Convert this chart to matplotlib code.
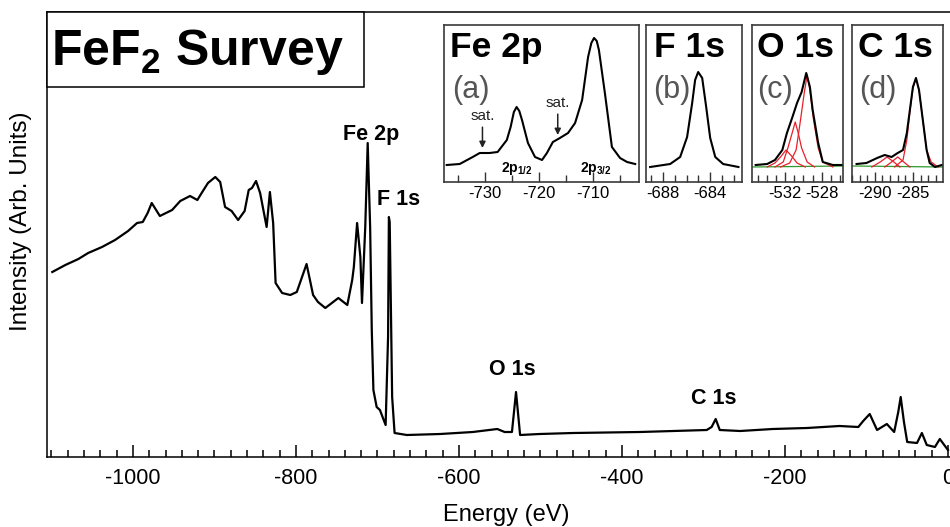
import matplotlib
matplotlib.use("Agg")
import matplotlib.pyplot as plt
from matplotlib.patches import Rectangle
from matplotlib.ticker import MultipleLocator

plt.rcParams.update({
    "font.family": ["Liberation Sans", "DejaVu Sans"],
    "mathtext.fontset": "custom",
    "mathtext.rm": "Liberation Sans",
    "mathtext.bf": "Liberation Sans:bold",
    "mathtext.it": "Liberation Sans:italic",
    "axes.unicode_minus": False,
})

# --- survey spectrum (energy in eV, intensity in arb. units) ---------------
SURVEY_E = [-1099, -1083, -1067, -1055, -1038, -1022, -1006, -995, -988, -982,
            -977, -967, -952, -942, -930, -921, -915, -908, -899, -893,
            -887, -879, -871, -863, -858, -854, -849, -844, -836, -832,
            -828, -825, -817, -807, -799, -787, -779, -773, -764, -756,
            -748, -737, -731, -729, -725, -721, -719, -715, -712, -709,
            -707, -705, -701, -697, -690, -687, -686, -685, -682, -679,
            -664, -623, -583, -553, -544, -535, -530, -525, -501, -460,
            -378, -337, -296, -290, -285, -280, -255, -215, -173, -133,
            -110, -104, -96, -87, -75, -66, -61, -58, -54, -50,
            -38, -32, -26, -16, -10, 0]
SURVEY_I = [185, 192, 198, 204, 210, 217, 226, 234, 235, 244,
            254, 241, 247, 256, 261, 257, 265, 274, 280, 275,
            250, 246, 237, 246, 267, 269, 276, 264, 230, 265,
            234, 174, 164, 162, 165, 193, 162, 155, 149, 154,
            159, 152, 177, 190, 234, 200, 154, 230, 314, 230,
            127, 67, 50, 47, 32, 120, 240, 235, 60, 24,
            22, 23, 25, 28, 25, 25, 65, 22, 23, 24,
            25, 26, 27, 30, 38, 27, 26, 28, 29, 31,
            30, 36, 43, 27, 33, 25, 45, 60, 35, 15,
            14, 24, 12, 10, 18, 7]
PEAK_NAMES = ["Fe 2p", "F 1s", "O 1s", "C 1s"]
PEAK_E = [-708, -674, -534, -287]
PEAK_I = [317, 252, 82, 53]

# --- (a) Fe 2p ---------------------------------------------------------------
FE2P_E = [-737.0, -734.6, -732.2, -730.9, -729.1, -727.6, -725.9, -725.2, -724.6,
          -724.1, -723.6, -723.1, -722.0, -720.7, -719.4, -718.5, -717.4, -716.1,
          -714.6, -713.3, -712.0, -710.9, -710.3, -709.8, -709.3, -708.9, -707.8,
          -706.5, -705.0, -703.7, -702.2]
FE2P_I = [17, 18, 25, 29, 29, 30, 42, 55, 70,
          75, 71, 62, 39, 25, 22, 29, 40, 44,
          49, 59, 82, 125, 139, 144, 141, 132, 89,
          35, 24, 20, 18]

# --- (b) F 1s ----------------------------------------------------------------
F1S_E = [-689.1, -687.4, -686.55, -685.96, -685.53, -685.28, -685.02, -684.68,
         -684.34, -684.0, -683.57, -682.9, -681.6]
F1S_I = [15, 18, 25, 45, 79, 102, 110, 104, 75, 44, 25, 18, 15]

# --- (c) O 1s: data, three fitted components, background ---------------------
O1S_E = [-535.2, -533.95, -533.1, -532.3, -531.8, -531.2, -530.7, -530.2,
         -529.7, -529.3, -529.0, -528.4, -527.9, -526.8, -525.8]
O1S_I = [17, 18, 22, 32, 49, 65, 79, 90, 109, 95, 72, 39, 20, 17, 17]
O1S_C1_E = [-533.95, -533.1, -532.5, -531.9, -531.2, -530.7, -529.8]
O1S_C1_I = [15, 19, 25, 32, 25, 19, 15]
O1S_C2_E = [-533.1, -532.2, -531.7, -531.2, -530.9, -530.6, -530.2, -529.6, -528.8]
O1S_C2_I = [15, 20, 34, 50, 60, 50, 34, 20, 15]
O1S_C3_E = [-532.5, -531.5, -530.8, -530.4, -529.9, -529.6, -529.3, -528.9,
            -528.4, -527.9, -526.8]
O1S_C3_I = [15, 19, 32, 57, 90, 107, 92, 62, 34, 20, 15]
O1S_BG_E = [-535.6, -525.7]
O1S_BG_I = [15, 16]

# --- (d) C 1s ----------------------------------------------------------------
C1S_E = [-292.4, -291.1, -289.7, -288.7, -287.8, -287.0, -286.3, -285.8, -285.4,
         -285.0, -284.6, -284.2, -283.7, -283.2, -282.8, -282.1, -281.2]
C1S_I = [18, 19, 24, 27, 25, 29, 32, 49, 72, 95, 104, 92, 62, 32, 19, 15, 17]
C1S_C1_E = [-290.4, -289.3, -288.4, -287.5, -286.7]
C1S_C1_I = [15, 20, 25, 20, 15]
C1S_C2_E = [-288.7, -287.8, -287.0, -286.2, -285.4]
C1S_C2_I = [15, 20, 25, 20, 15]
C1S_C3_E = [-287.4, -286.3, -285.8, -285.4, -285.0, -284.6, -284.2, -283.7,
            -283.2, -282.6, -281.7]
C1S_C3_I = [15, 22, 42, 70, 94, 104, 92, 62, 32, 20, 15]
C1S_BG_E = [-293.0, -281.0]
C1S_BG_I = [16, 15]

FIT_RED = "#e8202a"
BG_GREEN = "#2e9a2e"

fig = plt.figure(figsize=(9.5, 5.27), dpi=100)
fig.patch.set_facecolor("white")

# ---- main survey axes -------------------------------------------------------
ax = fig.add_axes([47 / 950, 70 / 527, 903 / 950, 445 / 527])
ax.plot(SURVEY_E, SURVEY_I, color="black", lw=1.6, solid_joinstyle="round")
ax.set_xlim(-1105.5, 2.5)
ax.set_ylim(0, 445)
ax.set_yticks([])
ax.xaxis.set_major_locator(MultipleLocator(200))
ax.xaxis.set_minor_locator(MultipleLocator(20))
ax.tick_params(axis="x", which="both", direction="in", labelsize=15.5, pad=8,
               width=1.1, top=False)
ax.tick_params(axis="x", which="major", length=9)
ax.tick_params(axis="x", which="minor", length=5)
ax.spines["right"].set_visible(False)
for s in ("left", "top", "bottom"):
    ax.spines[s].set_linewidth(1.1)
ax.set_xlabel("Energy (eV)", fontsize=17)
ax.xaxis.set_label_coords(0.509, -0.105)
ax.set_ylabel("Intensity (Arb. Units)", fontsize=17.5)
ax.yaxis.set_label_coords(-0.017, 0.53)

for name, e, i in zip(PEAK_NAMES, PEAK_E, PEAK_I):
    ax.text(e, i, name, ha="center", va="baseline", fontsize=15.5,
            weight="bold")

# title box in the top-left corner
ax.add_patch(Rectangle((0, 0.831), 0.351, 0.169, transform=ax.transAxes,
                       facecolor="white", edgecolor="black", lw=1.1,
                       clip_on=False, zorder=4))
ax.text(0.004, 0.881, r"FeF$_\mathbf{2}$ Survey", transform=ax.transAxes,
        fontsize=36, weight="bold", va="baseline", ha="left", zorder=5)


def inset(left, width, xlim, major, minor, title, tag, title_x, tag_x):
    a = fig.add_axes([left / 950, 345 / 527, width / 950, 157 / 527])
    a.set_xlim(*xlim)
    a.set_ylim(0, 157)
    a.set_yticks([])
    a.xaxis.set_major_locator(MultipleLocator(major))
    a.xaxis.set_minor_locator(MultipleLocator(minor))
    a.tick_params(axis="x", which="both", direction="in", labelsize=12,
                  pad=3, width=1, color="#333333")
    a.tick_params(axis="x", which="major", length=7)
    a.tick_params(axis="x", which="minor", length=5)
    for s in a.spines.values():
        s.set_color("#3a3a3a")
        s.set_linewidth(1.2)
    a.text(title_x, 0.796, title, transform=a.transAxes, fontsize=25.5,
           weight="bold", va="baseline")
    a.text(tag_x, 0.535, tag, transform=a.transAxes, fontsize=22,
           color="#555555", va="baseline")
    return a


# (a) Fe 2p
axa = inset(444, 195, (-737.5, -701.5), 10, 5, "Fe 2p", "(a)", 0.03, 0.04)
axa.plot(FE2P_E, FE2P_I, color="black", lw=1.5)
for x, ytxt, ytip in [(-730.4, 66, 34), (-716.5, 79, 47)]:
    axa.annotate("sat.", xy=(x, ytip), xytext=(x, ytxt), ha="center",
                 va="center", fontsize=11, color="#222222",
                 arrowprops=dict(arrowstyle="-|>", color="#222222", lw=1.1,
                                 mutation_scale=9, shrinkA=1, shrinkB=0))
axa.text(-724.1, 10, r"2p$_\mathbf{1/2}$", ha="center", va="baseline",
         fontsize=10, weight="bold")
axa.text(-709.4, 10, r"2p$_\mathbf{3/2}$", ha="center", va="baseline",
         fontsize=10, weight="bold")

# (b) F 1s
axb = inset(646, 96, (-689.45, -681.3), 4, 1, "F 1s", "(b)", 0.08, 0.07)
axb.plot(F1S_E, F1S_I, color="black", lw=1.5)

# (c) O 1s
axc = inset(752, 91, (-535.6, -525.7), 4, 1, "O 1s", "(c)", 0.05, 0.055)
axc.plot(O1S_BG_E, O1S_BG_I, color=BG_GREEN, lw=0.9)
for xe, yi in [(O1S_C1_E, O1S_C1_I), (O1S_C2_E, O1S_C2_I), (O1S_C3_E, O1S_C3_I)]:
    axc.plot(xe, yi, color=FIT_RED, lw=0.9)
axc.plot(O1S_E, O1S_I, color="black", lw=1.5)

# (d) C 1s
axd = inset(852, 91, (-293.0, -281.05), 5, 1, "C 1s", "(d)", 0.07, 0.075)
axd.plot(C1S_BG_E, C1S_BG_I, color=BG_GREEN, lw=0.9)
for xe, yi in [(C1S_C1_E, C1S_C1_I), (C1S_C2_E, C1S_C2_I), (C1S_C3_E, C1S_C3_I)]:
    axd.plot(xe, yi, color=FIT_RED, lw=0.9)
axd.plot(C1S_E, C1S_I, color="black", lw=1.5)

fig.savefig("out.png", dpi=100, facecolor="white")
